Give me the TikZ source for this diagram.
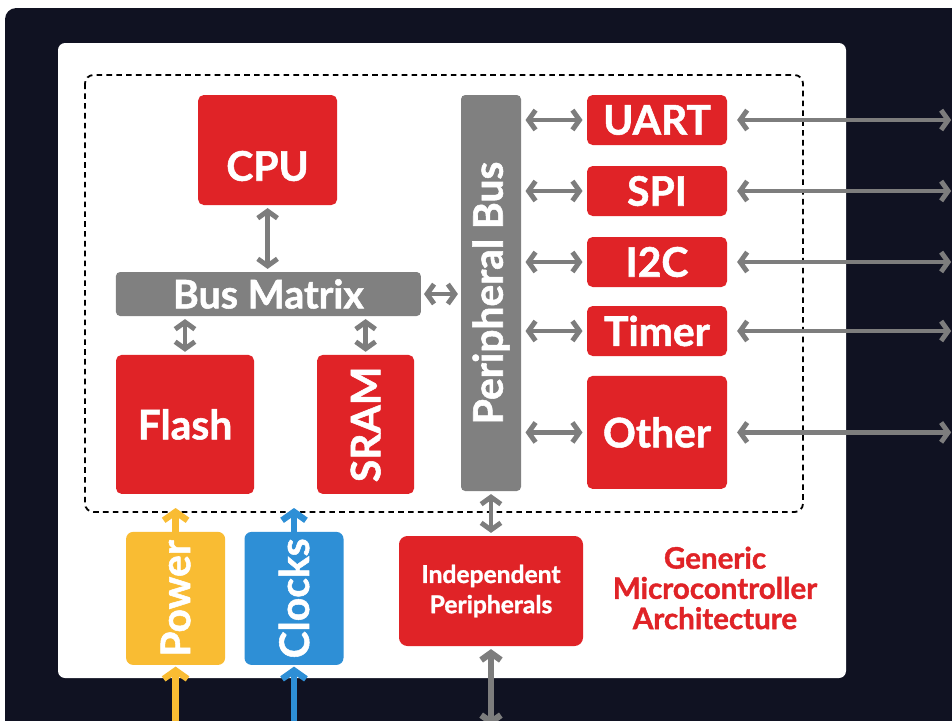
\documentclass[tikz,border=0pt]{standalone}
\usepackage{fontspec}
\setmainfont{Lato}[BoldFeatures={FakeBold=1.3}]
\usepackage{tikz}
\usetikzlibrary{arrows.meta, positioning, calc}
\definecolor{navybg}{RGB}{16, 18, 34}
\definecolor{blockred}{RGB}{224, 35, 39}
\definecolor{busgray}{RGB}{128, 128, 128}
\definecolor{arrowgray}{RGB}{125, 125, 125}
\definecolor{powercolor}{RGB}{249, 188, 51}
\definecolor{clockcolor}{RGB}{46, 143, 214}

\begin{document}
\begin{tikzpicture}[
    block/.style={fill=blockred, rounded corners=4pt, text=white, font=\bfseries, inner sep=0pt},
    busbar/.style={fill=busgray, rounded corners=3pt, text=white, font=\bfseries, inner sep=0pt},
    link/.style={{Straight Barb[length=5pt,width=14pt]}-{Straight Barb[length=5pt,width=14pt]}, line width=3.5pt, arrowgray},
    feed/.style={-{Straight Barb[length=6pt,width=17pt]}, line width=4.5pt}
]
    \useasboundingbox (0,0) rectangle (23.8,-18);
    % Background
    \fill[navybg, rounded corners=8pt] (0.125,-0.2) rectangle (24.5,-18.6);
    \fill[white, rounded corners=5pt] (1.45,-1.075) rectangle (21.15,-16.95);
    \draw[dashed, line width=1.3pt, rounded corners=6pt, dash pattern=on 4pt off 3pt] (2.125,-1.875) rectangle (20.075,-12.8);

    % Core blocks
    \node[block, minimum width=3.475cm, minimum height=2.75cm] (cpu) at (6.69, -3.75) {};
    \node[text=white, font=\bfseries\fontsize{29}{30}\selectfont] at ([yshift=-0.4cm]cpu.center) {CPU};
    \node[busbar, minimum width=7.625cm, minimum height=1.1cm, font=\bfseries\fontsize{28}{29}\selectfont] (busmatrix) at (6.71, -7.35) {Bus Matrix};
    \node[block, minimum width=3.45cm, minimum height=3.475cm, font=\bfseries\fontsize{29}{30}\selectfont] (flash) at (4.625, -10.61) {Flash};
    \node[block, minimum width=2.425cm, minimum height=3.475cm] (sram) at (9.14, -10.61) {};
    \node[text=white, rotate=90, font=\bfseries\fontsize{29}{30}\selectfont] at (sram) {SRAM};

    % Peripheral bus
    \node[busbar, minimum width=1.5cm, minimum height=9.9cm] (pbus) at (12.275, -7.325) {};
    \node[text=white, rotate=90, font=\bfseries\fontsize{29}{30}\selectfont] at (pbus) {Peripheral Bus};

    % Peripherals
    \node[block, minimum width=3.5cm, minimum height=1.25cm, font=\bfseries\fontsize{29}{30}\selectfont] (uart) at (16.425, -3.0) {UART};
    \node[block, minimum width=3.5cm, minimum height=1.25cm, font=\bfseries\fontsize{29}{30}\selectfont] (spi) at (16.425, -4.775) {SPI};
    \node[block, minimum width=3.5cm, minimum height=1.25cm, font=\bfseries\fontsize{29}{30}\selectfont] (itwoc) at (16.425, -6.55) {I2C};
    \node[block, minimum width=3.5cm, minimum height=1.25cm, font=\bfseries\fontsize{29}{30}\selectfont] (timer) at (16.425, -8.275) {Timer};
    \node[block, minimum width=3.5cm, minimum height=2.825cm, font=\bfseries\fontsize{29}{30}\selectfont] (other) at (16.425, -10.81) {Other};

    % Power and clocks
    \node[fill=powercolor, rounded corners=5pt, minimum width=2.475cm, minimum height=3.325cm] (power) at (4.39, -14.96) {};
    \node[text=white, rotate=90, font=\bfseries\fontsize{29}{30}\selectfont] at (power) {Power};
    \node[fill=clockcolor, rounded corners=5pt, minimum width=2.475cm, minimum height=3.325cm] (clocks) at (7.35, -14.96) {};
    \node[text=white, rotate=90, font=\bfseries\fontsize{29}{30}\selectfont] at (clocks) {Clocks};

    % Independent peripherals
    \node[block, rounded corners=6pt, minimum width=4.6cm, minimum height=2.75cm, align=center, font=\bfseries\fontsize{17.5}{21.5}\selectfont] (indep) at (12.275, -14.775) {Independent\\Peripherals};

    % Title
    \node[text=blockred, align=center, font=\bfseries\fontsize{21}{21.5}\selectfont] (title) at (17.875, -14.7) {Generic\\Microcontroller\\Architecture};

    % Free ends
    \coordinate (uartout) at (23.78, -3.0);
    \coordinate (spiout) at (23.78, -4.775);
    \coordinate (itwocout) at (23.78, -6.55);
    \coordinate (timerout) at (23.78, -8.275);
    \coordinate (otherout) at (23.78, -10.81);
    \coordinate (powerin) at (4.39, -18.3);
    \coordinate (powerup) at (4.39, -12.7);
    \coordinate (clocksin) at (7.35, -18.3);
    \coordinate (clocksup) at (7.35, -12.7);
    \coordinate (indepout) at (12.275, -18.15);

    % Internal bus links
    \draw[link, shorten <=2pt, shorten >=2pt] (cpu.south) -- (cpu.south |- busmatrix.north);
    \draw[link, shorten <=2pt, shorten >=2pt] (flash.north |- busmatrix.south) -- (flash.north);
    \draw[link, shorten <=2pt, shorten >=2pt] (sram.north |- busmatrix.south) -- (sram.north);
    \draw[link, shorten <=2pt, shorten >=2pt] (busmatrix.east) -- (busmatrix.east -| pbus.west);
    \draw[link, shorten <=3pt, shorten >=3pt] (uart.west -| pbus.east) -- (uart.west);
    \draw[link, shorten <=3pt, shorten >=3pt] (spi.west -| pbus.east) -- (spi.west);
    \draw[link, shorten <=3pt, shorten >=3pt] (itwoc.west -| pbus.east) -- (itwoc.west);
    \draw[link, shorten <=3pt, shorten >=3pt] (timer.west -| pbus.east) -- (timer.west);
    \draw[link, shorten <=3pt, shorten >=3pt] (other.west -| pbus.east) -- (other.west);
    \draw[link, shorten <=2pt, shorten >=2pt] (pbus.south) -- (indep.north);

    % External links
    \draw[link, shorten <=7pt] (uart.east) -- (uartout);
    \draw[link, shorten <=7pt] (spi.east) -- (spiout);
    \draw[link, shorten <=7pt] (itwoc.east) -- (itwocout);
    \draw[link, shorten <=7pt] (timer.east) -- (timerout);
    \draw[link, shorten <=7pt] (other.east) -- (otherout);
    \draw[link, line width=4.5pt, shorten <=2pt] (indep.south) -- (indepout);

    % Supply feeds
    \draw[feed, powercolor, shorten >=1pt] (powerin) -- (power.south);
    \draw[feed, powercolor] (power.north) -- (powerup);
    \draw[feed, clockcolor, shorten >=1pt] (clocksin) -- (clocks.south);
    \draw[feed, clockcolor] (clocks.north) -- (clocksup);
\end{tikzpicture}
\end{document}
